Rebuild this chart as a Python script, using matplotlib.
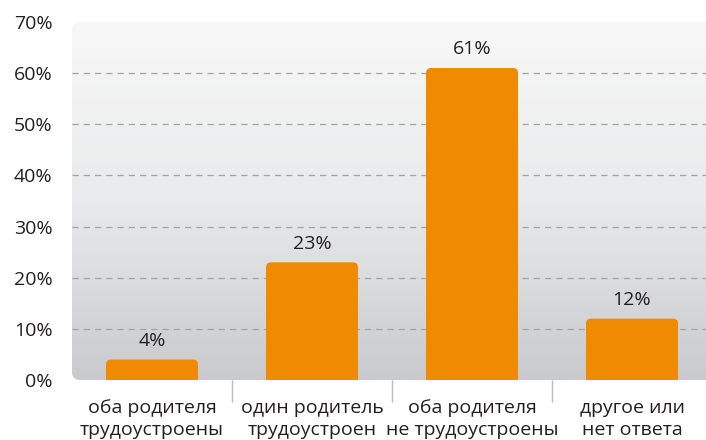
import numpy as np
import matplotlib
matplotlib.use("Agg")
import matplotlib.pyplot as plt
from matplotlib.patches import FancyBboxPatch
from matplotlib.colors import LinearSegmentedColormap

categories = ["оба родителя\nтрудоустроены", "один родитель\nтрудоустроен",
              "оба родителя\nне трудоустроены", "другое или\nнет ответа"]
values = [4, 23, 61, 12]
yticks = [0, 10, 20, 30, 40, 50, 60, 70]

plt.rcParams['font.family'] = ['Open Sans', 'DejaVu Sans']
text_color = "#231f20"

fig = plt.figure(figsize=(7.06, 4.40), dpi=100)
ax = fig.add_axes([72 / 706, 60 / 440, 634 / 706, 358 / 440])
ax.set_facecolor("none")

x = np.arange(len(categories))
ax.set_xlim(-0.5, 3.4625)
ax.set_ylim(0, 70)

# y-units per x-unit for one pixel, so rounded corners stay circular
px_x = 3.9625 / 634
px_y = 70 / 358
aspect = px_y / px_x

# gradient background with rounded corners
cmap = LinearSegmentedColormap.from_list("bg", ["#f8f8f8", "#e9eaeb", "#c8cacd"])
grad = np.linspace(0, 1, 256).reshape(-1, 1)
im = ax.imshow(grad, cmap=cmap, aspect="auto", extent=(-0.5, 3.6, 0, 70),
               origin="upper", zorder=0)
clip = FancyBboxPatch((-0.5, 0), 4.1, 70,
                      boxstyle=f"round,pad=0,rounding_size={8 * px_x}",
                      mutation_aspect=aspect, transform=ax.transData,
                      facecolor="none", edgecolor="none")
ax.add_patch(clip)
im.set_clip_path(clip)

for y in yticks[1:-1]:
    ax.axhline(y, color="#a3a3a3", linestyle=(0, (5, 4)), linewidth=0.9, zorder=1)

bars = ax.bar(x, values, width=0.575, color="#f08a00", zorder=2)
# swap the plain rectangles for ones with slightly rounded tops
for rect in bars:
    rect.set_visible(False)
    ax.add_patch(FancyBboxPatch((rect.get_x(), -3), rect.get_width(), rect.get_height() + 3,
                                boxstyle=f"round,pad=0,rounding_size={5 * px_x}",
                                mutation_aspect=aspect, facecolor="#f08a00",
                                edgecolor="none", zorder=2))
ax.bar_label(bars, labels=[f"{v}%" for v in values], padding=7,
             fontsize=14, color=text_color)

ax.set_yticks(yticks)
ax.set_yticklabels([f"{v}%" for v in yticks], fontsize=14, color=text_color)
ax.set_xticks(x)
ax.set_xticklabels(categories, fontsize=14, color=text_color, linespacing=1.25)
ax.set_xticks([0.5, 1.5, 2.5], minor=True)
ax.tick_params(axis="x", which="major", length=0, pad=14)
ax.tick_params(axis="x", which="minor", length=16, color="#bbbbbb", width=1)
ax.tick_params(axis="y", length=0, pad=14)
for s in ax.spines.values():
    s.set_visible(False)

fig.savefig("out.png", dpi=100)
